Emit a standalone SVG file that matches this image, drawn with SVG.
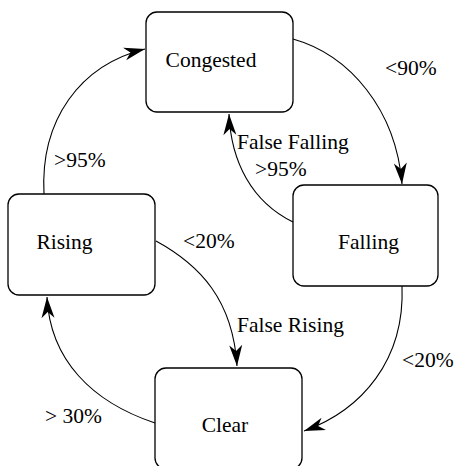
<svg xmlns="http://www.w3.org/2000/svg" width="454" height="466" viewBox="0 0 454 466" font-family="'Liberation Serif', 'DejaVu Serif', 'Times New Roman', serif">
<defs>
<style>
.box{fill:#fff;stroke:#000;stroke-width:1.3}
.edge{fill:none;stroke:#000;stroke-width:1.1}
.t{font-family:'Liberation Serif','DejaVu Serif','Times New Roman',serif;font-size:21.5px;fill:#000}
.c{text-anchor:middle}
</style>
<marker id="arr" markerUnits="userSpaceOnUse" markerWidth="28" markerHeight="20" viewBox="-24 -10 28 20" refX="0" refY="0" orient="auto">
<path d="M0,0 L-21,-6.5 L-15,0 L-21,6.5 Z" fill="#000"/>
</marker>
</defs>
<rect width="454" height="466" fill="#fff"/>
<g id="connectors">
<path class="edge" d="M293,39 C350,55 396,110 402,184" marker-end="url(#arr)"/>
<path class="edge" d="M293,222 C252,202 231,162 229,114" marker-end="url(#arr)"/>
<path class="edge" d="M44,194 C40,120 80,65 145,49" marker-end="url(#arr)"/>
<path class="edge" d="M156,241 C200,265 233,300 237,366" marker-end="url(#arr)"/>
<path class="edge" d="M402,286 C405,360 362,410 304,431" marker-end="url(#arr)"/>
<path class="edge" d="M155,423 C92,402 50,360 47,297" marker-end="url(#arr)"/>
</g>
<g id="labels">
<text class="t" x="385" y="75">&lt;90%</text>
<text class="t" x="237" y="149">False Falling</text>
<text class="t" x="255" y="176">&gt;95%</text>
<text class="t" x="54" y="167">&gt;95%</text>
<text class="t" x="183" y="248">&lt;20%</text>
<text class="t" x="237" y="332">False Rising</text>
<text class="t" x="402" y="367">&lt;20%</text>
<text class="t" x="45" y="423">&gt; 30%</text>
</g>
<g id="congested"><rect class="box" x="146" y="12" width="147" height="100" rx="11"/><text class="t c" x="211" y="67">Congested</text></g>
<g id="falling"><rect class="box" x="293" y="185" width="145" height="101" rx="11"/><text class="t c" x="368.5" y="249">Falling</text></g>
<g id="rising"><rect class="box" x="8" y="194" width="147" height="101" rx="11"/><text class="t c" x="64.5" y="249">Rising</text></g>
<g id="clear"><rect class="box" x="155" y="368" width="147" height="101" rx="11"/><text class="t c" x="225" y="432">Clear</text></g>
</svg>
